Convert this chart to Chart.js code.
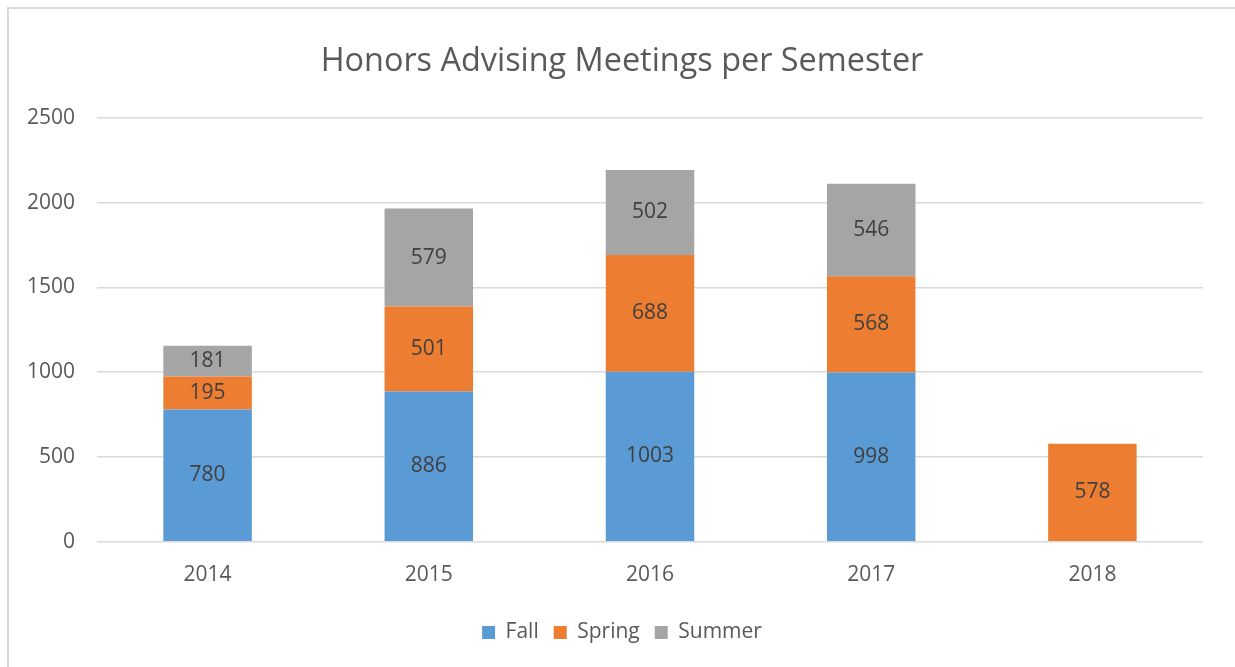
<!DOCTYPE html>
<html lang="en">
<head>
    <meta charset="UTF-8">
    <title>Honors Advising Meetings per Semester</title>
    <script src="https://cdn.jsdelivr.net/npm/chart.js"></script>
    <style>
        html, body { margin: 0; padding: 0; background: #fff; overflow: hidden; }
        /* frame of the embedded chart, right and bottom run off the page */
        .frame {
            position: absolute;
            left: 7px; top: 7px;
            width: 1300px; height: 700px;
            border: 2px solid #d9d9d9;
        }
        .chart-box {
            position: absolute;
            left: 9px; top: 9px;
            width: 1226px; height: 658px;
        }
    </style>
</head>
<body>
    <div class="frame"></div>
    <div class="chart-box"><canvas id="chart"></canvas></div>

    <script>
        const years = ['2014', '2015', '2016', '2017', '2018'];
        const fall = [780, 886, 1003, 998, null];
        const spring = [195, 501, 688, 568, 578];
        const summer = [181, 579, 502, 546, null];
        const yTicks = [0, 500, 1000, 1500, 2000, 2500];

        const fontFamily = '"Open Sans", "Noto Sans", sans-serif';

        // value labels in the middle of each segment
        const barLabels = {
            id: 'barLabels',
            afterDatasetsDraw(chart) {
                const ctx = chart.ctx;
                ctx.save();
                ctx.font = '21px ' + fontFamily;
                ctx.fillStyle = '#404040';
                ctx.textAlign = 'center';
                ctx.textBaseline = 'middle';
                chart.data.datasets.forEach((ds, i) => {
                    chart.getDatasetMeta(i).data.forEach((bar, j) => {
                        const v = ds.data[j];
                        if (v == null) return;
                        ctx.fillText(v, bar.x, (bar.y + bar.base) / 2);
                    });
                });
                ctx.restore();
            }
        };

        new Chart(document.getElementById('chart'), {
            type: 'bar',
            data: {
                labels: years,
                datasets: [
                    { label: 'Fall', data: fall, backgroundColor: '#5b9bd5' },
                    { label: 'Spring', data: spring, backgroundColor: '#ed7d31' },
                    { label: 'Summer', data: summer, backgroundColor: '#a5a5a5' }
                ]
            },
            options: {
                responsive: true,
                maintainAspectRatio: false,
                animation: false,
                layout: { padding: { left: 0, right: 0, top: 33, bottom: 14 } },
                datasets: { bar: { barPercentage: 0.4, categoryPercentage: 1 } },
                plugins: {
                    title: {
                        display: true,
                        text: 'Honors Advising Meetings per Semester',
                        color: '#595959',
                        font: { family: fontFamily, size: 32.4, weight: 'normal' },
                        padding: { top: 0, bottom: 37 }
                    },
                    legend: {
                        position: 'bottom',
                        labels: {
                            color: '#595959',
                            font: { family: fontFamily, size: 21 },
                            boxWidth: 13, boxHeight: 13,
                            padding: 15
                        }
                    },
                    tooltip: { enabled: false }
                },
                scales: {
                    x: {
                        stacked: true,
                        afterFit(axis) { axis.height += 6; },
                        grid: { display: false },
                        border: { display: false },
                        ticks: { color: '#595959', font: { family: fontFamily, size: 21 }, padding: 13 }
                    },
                    y: {
                        stacked: true,
                        min: 0, max: 2500,
                        afterBuildTicks(axis) { axis.ticks = yTicks.map(v => ({ value: v })); },
                        afterFit(axis) { axis.width = 88; },
                        grid: { color: '#d9d9d9', lineWidth: 1.5, drawTicks: false },
                        border: { display: false },
                        ticks: {
                            color: '#595959',
                            font: { family: fontFamily, size: 21 },
                            padding: 22,
                            callback: v => String(v)
                        }
                    },
                    // empty right margin so title and legend stay centred on the whole chart
                    spacer: {
                        position: 'right',
                        afterFit(axis) { axis.width = 32; },
                        grid: { display: false },
                        border: { display: false },
                        ticks: { display: false }
                    }
                }
            },
            plugins: [barLabels]
        });
    </script>
</body>
</html>
